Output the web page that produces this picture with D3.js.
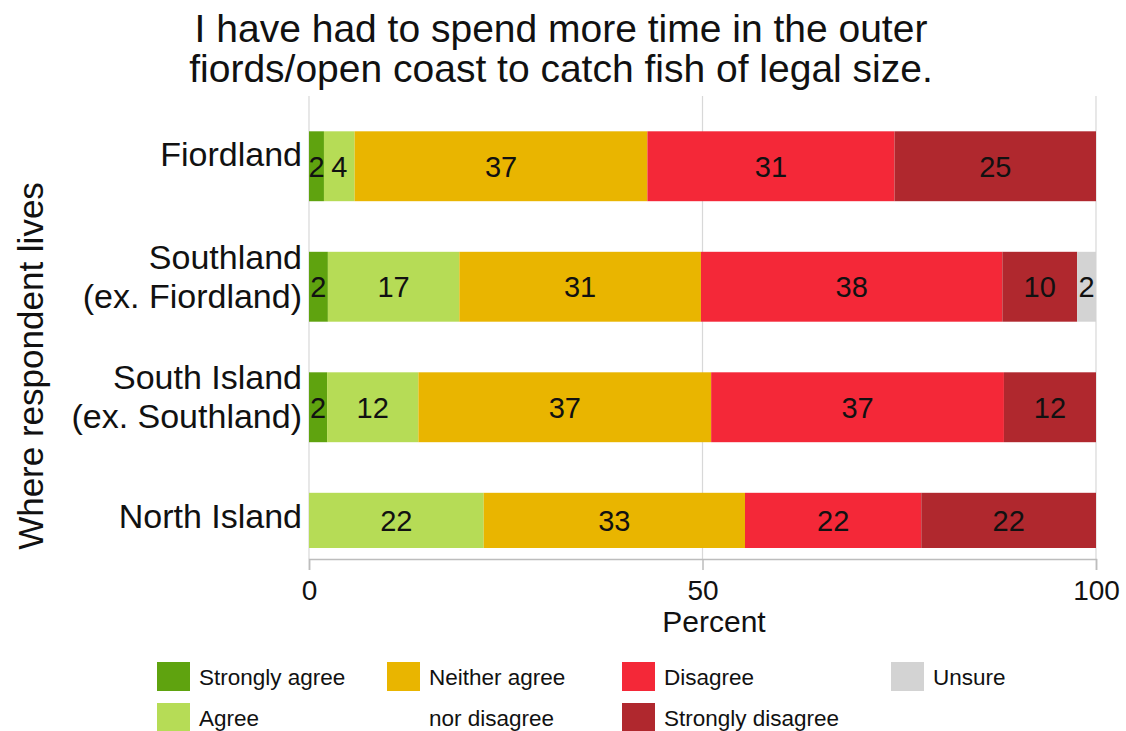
<!DOCTYPE html>
<html><head><meta charset="utf-8">
<script src="https://cdn.jsdelivr.net/npm/d3@7"></script>
<style>body{margin:0;background:#fff;font-family:"Liberation Sans",Arial,sans-serif;}</style>
</head><body><svg id="c" width="1126" height="731"></svg>
<script>
const categories = ["Fiordland", "Southland\n(ex. Fiordland)", "South Island\n(ex. Southland)", "North Island"];
const responses = ["Strongly agree", "Agree", "Neither agree\nnor disagree", "Disagree", "Strongly disagree", "Unsure"];
const colors = ["#5fa30f", "#b6dc56", "#e9b500", "#f42838", "#b0282e", "#d3d3d3"];
// percent values per category (order follows responses)
const fiordland = [1.9, 3.9, 37.2, 31.4, 25.6, 0];
const southland = [2.4, 16.7, 30.7, 38.3, 9.5, 2.4];
const southIsland = [2.3, 11.6, 37.2, 37.2, 11.7, 0];
const northIsland = [0, 22.2, 33.2, 22.4, 22.2, 0];
const fiordlandLabels = ["2", "4", "37", "31", "25", ""];
const southlandLabels = ["2", "17", "31", "38", "10", "2"];
const southIslandLabels = ["2", "12", "37", "37", "12", ""];
const northIslandLabels = ["", "22", "33", "22", "22", ""];
const xTicks = [0, 50, 100];
const title = ["I have had to spend more time in the outer", "fiords/open coast to catch fish of legal size."];

const values = [fiordland, southland, southIsland, northIsland];
const labels = [fiordlandLabels, southlandLabels, southIslandLabels, northIslandLabels];

const svg = d3.select("#c");
const x = d3.scaleLinear().domain([0, 100]).range([309, 1096]);
const y = d3.scaleBand().domain(categories).range([106, 588]).paddingInner(0.42).paddingOuter(0.21);

// title
svg.append("text").attr("x", 561).attr("y", 42)
  .attr("text-anchor", "middle").attr("font-size", 39).attr("fill", "#111")
  .selectAll("tspan").data(title).join("tspan")
  .attr("x", 561).attr("dy", (d, i) => i === 0 ? 0 : 40).text(d => d);

// gridlines
svg.append("g").selectAll("line").data(xTicks).join("line")
  .attr("x1", d => x(d)).attr("x2", d => x(d)).attr("y1", 96).attr("y2", 559)
  .attr("stroke", "#d8d8d8").attr("stroke-width", 1.2);

// clip
svg.append("clipPath").attr("id", "plotclip").append("rect")
  .attr("x", 300).attr("y", 96).attr("width", 800).attr("height", 452);

const rows = categories.map((c, i) => {
  let cum = 0;
  return values[i].map((v, j) => { const s = {cat: c, x0: cum, x1: cum + v, label: labels[i][j], color: colors[j]}; cum += v; return s; });
});

const barG = svg.append("g").attr("clip-path", "url(#plotclip)");
rows.forEach(r => {
  barG.selectAll(null).data(r.filter(s => s.x1 > s.x0)).join("rect")
    .attr("x", d => x(d.x0)).attr("width", d => x(d.x1) - x(d.x0))
    .attr("y", d => y(d.cat)).attr("height", y.bandwidth())
    .attr("fill", d => d.color);
});
const labG = svg.append("g");
rows.forEach(r => {
  const clipBottom = 548;
  labG.selectAll(null).data(r.filter(s => s.label !== "")).join("text")
    .attr("x", d => x((d.x0 + d.x1) / 2))
    .attr("y", d => (y(d.cat) + Math.min(y(d.cat) + y.bandwidth(), clipBottom)) / 2 + 10.5)
    .attr("text-anchor", "middle").attr("font-size", 29).attr("fill", "#111").text(d => d.label);
});

// category labels
categories.forEach(c => {
  const lines = c.split("\n");
  const cy = y(c) + y.bandwidth() / 2;
  const t = svg.append("text").attr("text-anchor", "end").attr("font-size", 34).attr("fill", "#111");
  lines.forEach((l, i) => {
    const base = lines.length === 1 ? cy : cy - 18;
    t.append("tspan").attr("x", 302).attr("y", base + i * 39).text(l);
  });
});

// x axis
const xAxis = svg.append("g").attr("transform", "translate(0,559)")
  .call(d3.axisBottom(x).tickValues(xTicks).tickSize(11).tickPadding(10));
xAxis.select(".domain").attr("stroke", "#bdbdbd").attr("stroke-width", 1.5);
xAxis.selectAll(".tick line").attr("stroke", "#bdbdbd").attr("stroke-width", 1.5);
xAxis.selectAll(".tick text").attr("font-size", 28).attr("fill", "#111").attr("font-family", "Liberation Sans, Arial, sans-serif");
svg.append("text").attr("x", 714).attr("y", 632).attr("text-anchor", "middle").attr("font-size", 30).attr("fill", "#111").text("Percent");

// y title
svg.append("text").attr("transform", "translate(43,366) rotate(-90)").attr("text-anchor", "middle")
  .attr("font-size", 35).attr("fill", "#111").text("Where respondent lives");

// legend
const legPos = [[157, 662], [157, 703], [387, 662], [622, 662], [622, 703], [891, 662]];
const leg = svg.append("g");
responses.forEach((r, i) => {
  const [lx, ly] = legPos[i];
  leg.append("rect").attr("x", lx).attr("y", ly).attr("width", 33).attr("height", 29).attr("fill", colors[i]);
  const t = leg.append("text").attr("font-size", 22.5).attr("fill", "#111");
  r.split("\n").forEach((l, k) => t.append("tspan").attr("x", lx + 42).attr("y", ly + 23 + k * 41).text(l));
});
</script></body></html>
